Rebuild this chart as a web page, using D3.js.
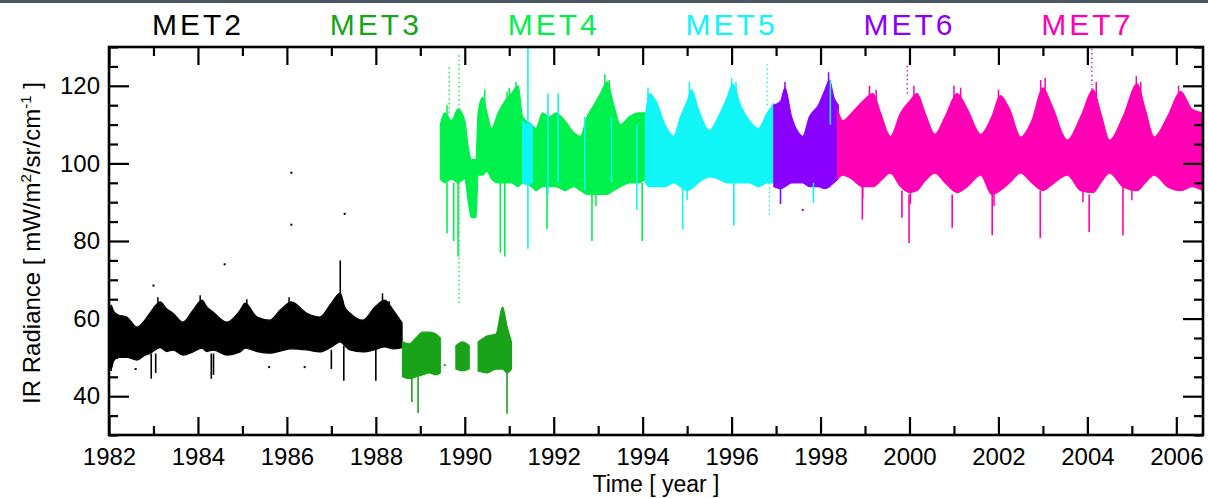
<!DOCTYPE html>
<html>
<head>
<meta charset="utf-8">
<title>IR Radiance MET2-MET7</title>
<script src="https://cdn.jsdelivr.net/npm/d3@7"></script>
<style>
  body { margin: 0; background: #fff; }
  svg { display: block; }
  text { font-family: "Liberation Sans", Arial, Helvetica, sans-serif; }
</style>
</head>
<body>
<script>

// satellite names and where their titles sit (year)
var satNames = ["MET2", "MET3", "MET4", "MET5", "MET6", "MET7"];
var titleYears = [1984, 1988, 1992, 1996, 2000, 2004];

// band envelopes: [year, low, high]  (null = gap)
var met2 = [
  [1982.0, 48, 61], [1982.05, 47, 63.5], [1982.1, 49, 62], [1982.2, 50, 61],
  [1982.4, 50, 60.4], [1982.63, 49.3, 57.8], [1982.8, 50.5, 59.5], [1982.92, 51, 61.4],
  [1983.15, 52.5, 64.3], [1983.3, 51.5, 62.5], [1983.44, 51.9, 61.4], [1983.66, 50.6, 59.1],
  [1983.89, 51.4, 62.2], [1984.09, 52.4, 64.8], [1984.2, 51.5, 63], [1984.34, 51.9, 61.7],
  [1984.65, 50.6, 59.1], [1984.95, 51.4, 62.2], [1985.06, 52.4, 64], [1985.33, 51.5, 60.4],
  [1985.62, 51.1, 59.6], [1985.85, 51.6, 62.2], [1986.1, 52.2, 64.3], [1986.45, 51.9, 61.4],
  [1986.74, 51.4, 60.4], [1987.0, 52.7, 64], [1987.2, 54, 66.6], [1987.3, 53, 63],
  [1987.42, 51.9, 61.4], [1987.71, 51.4, 59.6], [1987.98, 52, 63], [1988.2, 52.7, 64.8],
  [1988.39, 52.2, 62.2], [1988.59, 52.5, 58.9]
];
var met3 = [
  [1988.6, 45, 54], [1988.75, 44.5, 53.5], [1988.9, 45, 55], [1989.05, 45.5, 56.5],
  [1989.2, 46, 56.5], [1989.35, 45.5, 56], [1989.45, 46, 55],
  [1989.6, null, null],
  [1989.8, 47, 53], [1989.95, 46.5, 54], [1990.1, 47, 53],
  [1990.2, null, null],
  [1990.3, 46.5, 54], [1990.5, 46, 55.5], [1990.7, 47, 56], [1990.85, 47, 63],
  [1990.95, 46, 58], [1991.05, 47, 54]
];
var met4 = [
  [1989.45, 96, 110], [1989.55, 95, 113], [1989.7, 96, 111], [1989.85, 95, 114],
  [1990.0, 96, 111], [1990.08, 90, 104], [1990.15, 86, 101], [1990.25, 86, 101],
  [1990.3, 97, 113], [1990.4, 97, 117], [1990.5, 98, 113], [1990.6, 96, 109],
  [1990.75, 95, 113], [1990.9, 95, 116], [1991.05, 95, 118], [1991.2, 94, 120],
  [1991.3, 95, 112], [1991.5, 94, 110], [1991.6, 93, 109], [1991.75, 94, 113],
  [1991.9, 94, 112], [1992.05, 94, 113], [1992.25, 93, 111], [1992.45, 94, 108],
  [1992.6, 93, 107], [1992.75, 92, 112], [1992.9, 92, 115], [1993.05, 92, 118],
  [1993.2, 92, 121], [1993.35, 93, 115], [1993.5, 94, 110], [1993.7, 95, 112],
  [1993.9, 95, 113], [1994.06, 96, 113]
];
var met5 = [
  [1991.3, 95, 111], [1991.4, 94.5, 110], [1991.52, 95, 110],
  [1991.6, null, null],
  [1994.06, 95, 112], [1994.15, 94, 118], [1994.3, 94, 116], [1994.5, 94, 110],
  [1994.7, 95, 107], [1994.85, 94, 112], [1995.0, 93, 116], [1995.1, 93.5, 119],
  [1995.25, 95, 114], [1995.5, 96.5, 108.5], [1995.7, 96, 112], [1995.9, 95, 117],
  [1996.03, 95, 120.5], [1996.2, 95, 115], [1996.4, 95, 111], [1996.6, 94, 109],
  [1996.8, 95, 113], [1996.95, 95, 115.5]
];
var met6 = [
  [1996.95, 94, 115], [1997.1, 93.5, 116], [1997.2, 94, 119.5], [1997.35, 95, 112],
  [1997.5, 95, 108], [1997.6, 95, 107], [1997.75, 94, 112], [1997.95, 94, 115],
  [1998.1, 93.5, 119], [1998.2, 94, 121.5], [1998.3, 95, 117], [1998.4, 96, 115]
];
var met7 = [
  [1998.38, 96, 114], [1998.5, 97, 111], [1998.7, 96, 113], [1998.95, 94, 116],
  [1999.18, 94, 118], [1999.35, 95.5, 113], [1999.57, 97.5, 107], [1999.8, 94, 113],
  [2000.0, 92.5, 116], [2000.17, 93, 118], [2000.35, 95.5, 113], [2000.57, 97.5, 107.5],
  [2000.8, 95, 112], [2001.07, 92.5, 118], [2001.3, 94, 114], [2001.6, 97, 107.5],
  [2001.85, 92, 112], [2002.04, 93, 117.5], [2002.25, 95, 114], [2002.5, 97.5, 106.8],
  [2002.75, 95, 111], [2003.0, 93, 119.5], [2003.2, 94.5, 115], [2003.55, 97, 106],
  [2003.85, 93, 112], [2004.13, 92.5, 119], [2004.3, 95, 113], [2004.5, 97.5, 106],
  [2004.8, 94, 112], [2005.12, 93, 120.5], [2005.3, 95, 114], [2005.5, 97, 106.8],
  [2005.8, 94, 112], [2006.1, 93, 118.5], [2006.35, 94, 114], [2006.6, 93, 113]
];

// single spikes: [satellite index, year, from, to]
var spikes = [
  [0, 1982.95, 51, 44.5], [0, 1983.05, 51, 46], [0, 1984.3, 51, 44.5], [0, 1984.35, 51, 45.5],
  [0, 1987.0, 52, 47], [0, 1987.28, 53, 44], [0, 1988.0, 52, 44], [0, 1987.2, 64, 75],
  [1, 1988.81, 45, 38.5], [1, 1988.95, 45, 35.7], [1, 1990.95, 46, 35.5],
  [2, 1989.6, 95, 82], [2, 1989.75, 95, 80], [2, 1989.85, 95, 76], [2, 1990.8, 95, 77],
  [2, 1990.9, 95, 76], [2, 1991.85, 94, 83], [2, 1992.86, 92, 80], [2, 1993.99, 95, 80],
  [3, 1991.42, 78, 131], [3, 1991.87, 92, 118], [3, 1992.1, 95, 118], [3, 1992.7, 93, 112],
  [3, 1993.3, 95, 112], [3, 1993.87, 88, 110], [3, 1994.9, 94, 83], [3, 1996.05, 95, 84],
  [3, 1997.84, 95, 89.8], [3, 1998.22, 110, 121.5],
  [4, 1997.1, 94, 89.5],
  [5, 1998.94, 94, 85.5], [5, 1999.83, 93, 86], [5, 1999.99, 92, 79.5], [5, 2000.96, 92, 83.4],
  [5, 2001.86, 92, 81.5], [5, 2002.94, 93, 80.8], [5, 2004.04, 92, 82.3], [5, 2004.8, 94, 81.5]
];

// short flecks on the band edges: [satellite index, year, from, to]
var flecks = [
  [0, 1983.1, 63, 65.5], [0, 1984.05, 63, 66], [0, 1985.1, 63, 65], [0, 1986.05, 63, 65.5],
  [0, 1988.15, 63, 66.5], [0, 1988.3, 61, 64.5], [0, 1982.05, 50, 46.5],
  [2, 1989.6, 111, 115], [2, 1990.45, 115, 119], [2, 1990.95, 114, 118.5], [2, 1991.0, 115, 119.5],
  [2, 1991.15, 118, 121], [2, 1993.15, 119, 123], [2, 1993.25, 117, 121.5], [2, 1992.95, 92.5, 89],
  [3, 1994.12, 116, 119.5], [3, 1995.05, 117, 121], [3, 1996.0, 118, 122], [3, 1996.1, 117, 121],
  [3, 1995.0, 93.5, 90.5],
  [4, 1997.2, 117, 121], [4, 1998.18, 119, 123.5],
  [5, 1999.1, 116, 120], [5, 1999.25, 116, 119], [5, 2000.1, 116, 120], [5, 2001.0, 116, 120],
  [5, 2001.15, 116, 119.5], [5, 2002.0, 115, 119], [5, 2002.95, 117, 121.5], [5, 2003.05, 117, 122],
  [5, 2004.2, 117, 121], [5, 2005.1, 118, 122.5], [5, 2005.2, 117, 121], [5, 2006.05, 116, 120],
  [5, 2000.02, 93, 89.5], [5, 2001.9, 92.5, 89], [5, 2003.9, 93, 90], [5, 2005.0, 93.5, 90.5],
  [5, 1998.95, 94, 91]
];

// sparse dotted streaks: [satellite index, year, from, to]
var streaks = [
  [2, 1989.87, 64, 128], [2, 1989.65, 113, 125], [3, 1996.85, 95, 86],
  [3, 1996.8, 115, 126], [5, 2004.1, 119, 131], [5, 1999.95, 118, 126]
];

// isolated points: [satellite index, year, value]
var dots = [
  [0, 1984.6, 74], [0, 1986.1, 97.6], [0, 1986.1, 84.2], [0, 1987.3, 87],
  [0, 1982.6, 47], [0, 1985.6, 47.5], [0, 1986.4, 47.5], [0, 1983.0, 68.5],
  [1, 1989.55, 48], [4, 1997.6, 88]
];

// axis ticks
var majorYears = d3.range(1982, 2007, 2);
var minorYears = d3.range(1983, 2007, 2);
var majorVals = [40, 60, 80, 100, 120];
var minorVals = [30, 35, 45, 50, 55, 65, 70, 75, 85, 90, 95, 105, 110, 115, 125, 130];

window.onload = function(){

    var colors = ["#000000", "#19a319", "#00f04c", "#10f5f5", "#8a00ff", "#ff00b4"];
    var bands = [met2, met3, met4, met5, met6, met7];

    var W = 1208, H = 498;
    var left = 109, right = 1203, top = 47, bottom = 435;

    var svg = d3.select("body").append("svg")
        .attr("width", W).attr("height", H);

    // the dark strip along the top of the screenshot
    svg.append("rect").attr("x", 0).attr("y", 0).attr("width", W).attr("height", 3)
        .attr("fill", "#4b5663");

    var x = d3.scaleLinear().domain([1982, 2006.6]).range([left, right]);
    var y = d3.scaleLinear().domain([30, 130]).range([bottom, top]);

    svg.append("clipPath").attr("id", "plotclip")
        .append("rect").attr("x", left).attr("y", top)
        .attr("width", right - left).attr("height", bottom - top);

    var plot = svg.append("g").attr("clip-path", "url(#plotclip)");

    var area = d3.area()
        .defined(function(d){ return d[1] != null; })
        .curve(d3.curveMonotoneX)
        .x(function(d){ return x(d[0]); })
        .y0(function(d){ return y(d[1]); })
        .y1(function(d){ return y(d[2]); });

    bands.forEach(function(band, i){
        plot.append("path")
            .datum(band)
            .attr("d", area)
            .attr("fill", colors[i])
            .attr("stroke", colors[i])
            .attr("stroke-width", 1.2)
            .attr("stroke-linejoin", "round");
    });

    // vertical marks: spikes, flecks, dotted streaks
    function vlines(cls, rows, width, dash){
        plot.selectAll("line." + cls)
            .data(rows)
            .enter().append("line")
            .attr("class", cls)
            .attr("x1", function(d){ return x(d[1]); })
            .attr("x2", function(d){ return x(d[1]); })
            .attr("y1", function(d){ return y(d[2]); })
            .attr("y2", function(d){ return y(d[3]); })
            .attr("stroke", function(d){ return colors[d[0]]; })
            .attr("stroke-width", width)
            .attr("stroke-dasharray", dash);
    }
    vlines("spike", spikes, 1.6, null);
    vlines("fleck", flecks, 1.5, null);
    vlines("streak", streaks, 1.4, "1.4,3");

    plot.selectAll("rect.dot")
        .data(dots)
        .enter().append("rect")
        .attr("class", "dot")
        .attr("x", function(d){ return x(d[1]) - 1; })
        .attr("y", function(d){ return y(d[2]) - 1; })
        .attr("width", 2).attr("height", 2)
        .attr("fill", function(d){ return colors[d[0]]; });

    // axes, ticks pointing inward on all four sides
    var fmt = d3.format("d");
    var axes = [
        [d3.axisBottom(x).tickValues(majorYears).tickFormat(fmt).tickSize(-18).tickPadding(13), "translate(0," + bottom + ")"],
        [d3.axisBottom(x).tickValues(minorYears).tickFormat("").tickSize(-9), "translate(0," + bottom + ")"],
        [d3.axisTop(x).tickValues(majorYears).tickFormat("").tickSize(-18), "translate(0," + top + ")"],
        [d3.axisTop(x).tickValues(minorYears).tickFormat("").tickSize(-9), "translate(0," + top + ")"],
        [d3.axisLeft(y).tickValues(majorVals).tickFormat(fmt).tickSize(-20).tickPadding(9), "translate(" + left + ",0)"],
        [d3.axisLeft(y).tickValues(minorVals).tickFormat("").tickSize(-9), "translate(" + left + ",0)"],
        [d3.axisRight(y).tickValues(majorVals).tickFormat("").tickSize(-20), "translate(" + right + ",0)"],
        [d3.axisRight(y).tickValues(minorVals).tickFormat("").tickSize(-9), "translate(" + right + ",0)"]
    ];
    axes.forEach(function(a){
        var g = svg.append("g").attr("transform", a[1]).call(a[0]);
        g.select(".domain").remove();
        g.selectAll(".tick line").attr("stroke", "#000").attr("stroke-width", 2.2);
        g.selectAll(".tick text")
            .attr("font-family", "'Liberation Sans', Arial, sans-serif")
            .attr("font-size", "24px").attr("fill", "#000");
    });

    // frame
    svg.append("rect")
        .attr("x", left).attr("y", top)
        .attr("width", right - left).attr("height", bottom - top)
        .attr("fill", "none").attr("stroke", "#000").attr("stroke-width", 2.6);

    // satellite titles
    svg.selectAll("text.sat")
        .data(satNames)
        .enter().append("text")
        .attr("class", "sat")
        .attr("x", function(d, i){ return x(titleYears[i]); })
        .attr("y", 35)
        .attr("text-anchor", "middle")
        .attr("font-size", "30px")
        .attr("letter-spacing", "3px")
        .attr("fill", function(d, i){ return colors[i]; })
        .text(function(d){ return d; });

    // axis titles
    svg.append("text")
        .attr("x", (left + right) / 2).attr("y", 492)
        .attr("text-anchor", "middle").attr("font-size", "23px")
        .text("Time [ year ]");

    var yl = svg.append("text")
        .attr("transform", "translate(40," + ((top + bottom) / 2 + 2) + ") rotate(-90)")
        .attr("text-anchor", "middle").attr("font-size", "24px");
    yl.append("tspan").text("IR Radiance [ mW/m");
    yl.append("tspan").attr("font-size", "15px").attr("dy", -9).text("2");
    yl.append("tspan").attr("dy", 9).text("/sr/cm");
    yl.append("tspan").attr("font-size", "15px").attr("dy", -9).text("-1");
    yl.append("tspan").attr("dy", 9).text(" ]");
};
</script>
</body>
</html>
